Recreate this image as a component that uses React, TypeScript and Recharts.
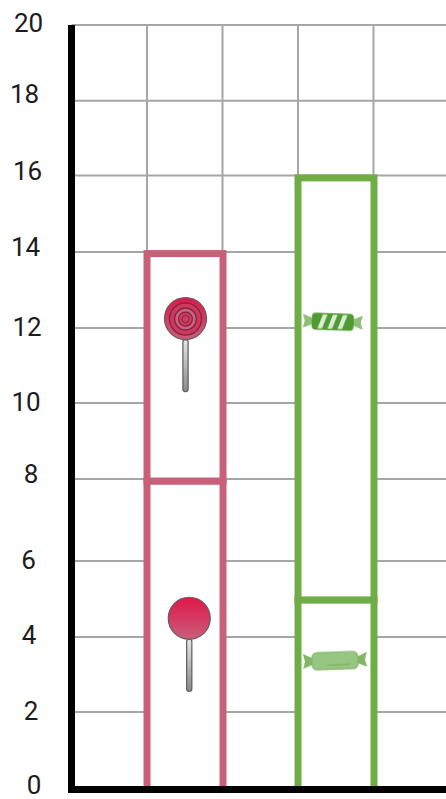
import { BarChart, Bar, XAxis, YAxis, CartesianGrid, ReferenceDot, ReferenceLine } from "recharts";

const categories = ["gap1", "lollipops", "gap2", "candy", "gap3"];
const lowerValues = [null, 8.07, null, 4.96, null];
const upperValues = [null, 5.95, null, 11.04, null];
const yTicks = [0, 2, 4, 6, 8, 10, 12, 14, 16, 18, 20];
// gridlines in the picture sit a little off the even values
const gridValues = [2.03, 3.99, 5.98, 8.12, 10.11, 12.07, 14.06, 16.06, 18.02, 20];
const gridSlots = [1, 2, 3, 4];

const tableData = categories.map((name, i) => ({
  name,
  lower: lowerValues[i],
  upper: upperValues[i],
}));

const PINK = "#c8607a";
const GREEN = "#70ad47";
const GRID = "#a6a6a6";
const barColors = [PINK, PINK, PINK, GREEN, GREEN];

// label nudges per tick value: [centre x, dy from the tick]
const tickOffsets: Record<number, [number, number]> = {
  20: [28.5, -2.5],
  18: [24.5, -7],
  16: [27.5, -7],
  14: [25.5, -7.3],
  12: [27, -3.8],
  10: [26, -5.3],
  8: [31, -9.7],
  6: [28.5, 0],
  4: [29, -1.6],
  2: [31, -2],
  0: [34, -4.5],
};

function ValueTick({ y, payload }: any) {
  const [cx, dy] = tickOffsets[payload.value];
  return (
    <text
      x={cx}
      y={y + dy}
      textAnchor="middle"
      dominantBaseline="central"
      fontFamily="Roboto"
      fontSize={26}
      fill="#1c1c1c"
    >
      {payload.value}
    </text>
  );
}

// outlined white box, the default rectangle came out too thin
function OutlinedBar({ x, y, width, height, index }: any) {
  if (!height) return null;
  return <rect x={x} y={y} width={width} height={height} fill="#fff" stroke={barColors[index]} strokeWidth={7} />;
}

function Stick({ x, y }: { x: number; y: number }) {
  return (
    <rect x={x - 2.6} y={y} width={5.2} height={52} rx={2.2} fill="url(#stickGrad)" stroke="#5c5c5c" strokeWidth={1.2} />
  );
}

function PlainLollipop({ cx, cy }: any) {
  const x = cx + 4.5;
  return (
    <g>
      <Stick x={x} y={cy + 21} />
      <circle cx={x} cy={cy} r={21} fill="url(#plainHead)" stroke="#6b5a60" strokeWidth={1.2} />
    </g>
  );
}

function SwirlLollipop({ cx, cy }: any) {
  const x = cx + 0.75;
  return (
    <g>
      <Stick x={x} y={cy + 21} />
      <circle cx={x} cy={cy} r={21} fill="url(#plainHead)" stroke="#6b5a60" strokeWidth={1.2} />
      <circle cx={x} cy={cy + 0.5} r={16} fill="#d2375f" stroke="#7c2a42" strokeWidth={1.4} />
      <circle cx={x} cy={cy + 0.5} r={11} fill="#cf5f7c" stroke="#7c2a42" strokeWidth={1.4} />
      <circle cx={x} cy={cy + 0.5} r={7} fill="#d2375f" stroke="#7c2a42" strokeWidth={1.2} />
      <circle cx={x} cy={cy + 0.5} r={3.6} fill="#c9405f" stroke="#7c2a42" strokeWidth={1} />
    </g>
  );
}

function StripedCandy({ cx, cy }: any) {
  const x = cx - 3;
  return (
    <g transform={`rotate(2 ${x} ${cy})`} filter="url(#soft)">
      <path d={`M${x - 20} ${cy - 3} L${x - 30} ${cy - 7} L${x - 28} ${cy} L${x - 30} ${cy + 7} L${x - 20} ${cy + 3} Z`} fill="#8fbf76" />
      <path d={`M${x + 20} ${cy - 3} L${x + 30} ${cy - 7} L${x + 28} ${cy} L${x + 30} ${cy + 7} L${x + 20} ${cy + 3} Z`} fill="#8fbf76" />
      <rect x={x - 21} y={cy - 8.5} width={42} height={17} rx={4} fill="#4f9a30" />
      {[-15, -5, 5].map((d) => (
        <path
          key={d}
          d={`M${x + d} ${cy + 7} L${x + d + 4.5} ${cy + 7} L${x + d + 9.5} ${cy - 7} L${x + d + 5} ${cy - 7} Z`}
          fill="#dcebd2"
        />
      ))}
    </g>
  );
}

function PlainCandy({ cx, cy }: any) {
  const x = cx - 0.75;
  return (
    <g transform={`rotate(-2 ${x} ${cy})`} filter="url(#soft)">
      <path d={`M${x - 22} ${cy - 3} L${x - 32} ${cy - 8} L${x - 30} ${cy} L${x - 32} ${cy + 7} L${x - 22} ${cy + 3} Z`} fill="#7fb563" />
      <path d={`M${x + 22} ${cy - 3} L${x + 32} ${cy - 8} L${x + 30} ${cy} L${x + 32} ${cy + 7} L${x + 22} ${cy + 3} Z`} fill="#7fb563" />
      <rect x={x - 23} y={cy - 8.5} width={46} height={17} rx={5} fill="#97c582" stroke="#84b76c" strokeWidth={1.2} />
      <line x1={x - 8} y1={cy + 4.5} x2={x + 15} y2={cy + 4} stroke="#78ad5e" strokeWidth={1} />
    </g>
  );
}

export default function App() {
  return (
    <div style={{ position: "absolute", left: 0, top: 0, width: 446, height: 799, overflow: "hidden", background: "#fff" }}>
      <BarChart
        width={449}
        height={799}
        data={tableData}
        barCategoryGap={0}
        margin={{ top: 25, right: 0, bottom: 8.5, left: 0 }}
      >
        <defs>
          <linearGradient id="plainHead" x1="0" y1="0" x2="0" y2="1">
            <stop offset="0%" stopColor="#e0164a" />
            <stop offset="100%" stopColor="#c85f7a" />
          </linearGradient>
          <linearGradient id="stickGrad" x1="0" y1="0" x2="0" y2="1">
            <stop offset="0%" stopColor="#e6e6e6" />
            <stop offset="100%" stopColor="#8a8a8a" />
          </linearGradient>
          <filter id="soft" x="-10%" y="-20%" width="120%" height="140%">
            <feGaussianBlur stdDeviation="0.4" />
          </filter>
        </defs>
        <CartesianGrid
          stroke={GRID}
          strokeWidth={2}
          horizontalValues={gridValues}
          verticalCoordinatesGenerator={({ offset }: any) =>
            gridSlots.map((slot) => offset.left + (offset.width * slot) / categories.length)
          }
        />
        <XAxis
          dataKey="name"
          height={1}
          tick={false}
          tickLine={false}
          axisLine={{ stroke: "#000", strokeWidth: 7, strokeLinecap: "square" }}
        />
        <YAxis
          width={71.5}
          domain={[0, 20]}
          ticks={yTicks}
          interval={0}
          tick={<ValueTick />}
          tickLine={false}
          axisLine={{ stroke: "#000", strokeWidth: 7 }}
        />
        <Bar dataKey="lower" stackId="a" shape={OutlinedBar} isAnimationActive={false} />
        <Bar dataKey="upper" stackId="a" shape={OutlinedBar} isAnimationActive={false} />
        <ReferenceLine y={0} stroke="#000" strokeWidth={7} ifOverflow="visible" />
        <ReferenceDot x="lollipops" y={12.32} r={1} shape={SwirlLollipop} ifOverflow="visible" />
        <ReferenceDot x="lollipops" y={4.48} r={1} shape={PlainLollipop} ifOverflow="visible" />
        <ReferenceDot x="candy" y={12.24} r={1} shape={StripedCandy} ifOverflow="visible" />
        <ReferenceDot x="candy" y={3.37} r={1} shape={PlainCandy} ifOverflow="visible" />
      </BarChart>
    </div>
  );
}
